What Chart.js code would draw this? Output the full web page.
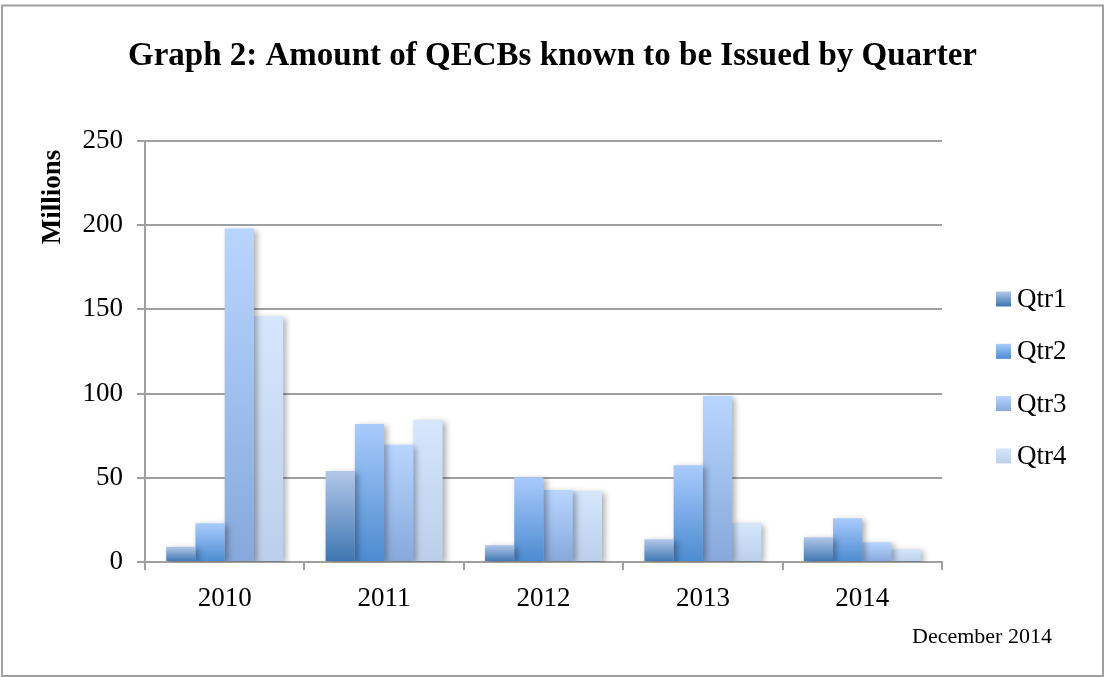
<!DOCTYPE html>
<html>
<head>
<meta charset="utf-8">
<title>Graph 2: Amount of QECBs known to be Issued by Quarter</title>
<script src="https://cdn.jsdelivr.net/npm/chart.js@4/dist/chart.umd.min.js"></script>
<style>
  html, body { margin: 0; padding: 0; background: #ffffff; }
  canvas { display: block; }
</style>
</head>
<body>
<canvas id="chart" width="1105" height="677"></canvas>
<script>
// Issued QECB amounts, in millions of dollars, by year and quarter
const years = ['2010', '2011', '2012', '2013', '2014'];
const seriesNames = ['Qtr1', 'Qtr2', 'Qtr3', 'Qtr4'];
const qtr1 = [9, 54, 10, 13.5, 14.7];
const qtr2 = [23, 82, 50.4, 57.5, 26];
const qtr3 = [198, 69.6, 42.7, 98.6, 11.7];
const qtr4 = [146, 84.4, 42, 23, 7.5];
const yTicks = [0, 50, 100, 150, 200, 250];

const titleText = 'Graph 2: Amount of QECBs known to be Issued by Quarter';
const yAxisTitle = 'Millions';
const footnote = 'December 2014';

// top / bottom colours of each series' vertical fill
const shades = [
  ['#b2c7e9', '#3d75b0'],
  ['#a9cbfd', '#4a8bd0'],
  ['#b8d5fe', '#86a9db'],
  ['#d5e6fd', '#bccfea']
];

const SERIF = '"Liberation Serif", "DejaVu Serif", serif';
const GRID = '#a0a0a0';

function barFill(top, bottom) {
  return (ctx) => {
    const chart = ctx.chart;
    if (ctx.type !== 'data' || !chart.chartArea || !chart.scales.y) return bottom;
    const ys = chart.scales.y;
    const v = ctx.parsed ? ctx.parsed.y : ctx.raw;
    const yTop = ys.getPixelForValue(v);
    const yBase = ys.getPixelForValue(0);
    if (!isFinite(yTop) || !isFinite(yBase) || Math.abs(yBase - yTop) < 0.5) return bottom;
    const g = chart.ctx.createLinearGradient(0, yTop, 0, yBase);
    g.addColorStop(0, top);
    g.addColorStop(1, bottom);
    return g;
  };
}

const values = [qtr1, qtr2, qtr3, qtr4];
const datasets = seriesNames.map((name, i) => ({
  label: name,
  data: values[i],
  backgroundColor: barFill(shades[i][0], shades[i][1]),
  borderWidth: 0,
  categoryPercentage: 0.734,
  barPercentage: 1.0
}));

// soft drop shadow behind the bars
const barShadow = {
  id: 'barShadow',
  beforeDatasetsDraw(chart) {
    const c = chart.ctx;
    c.save();
    c.shadowColor = 'rgba(0,0,0,0.32)';
    c.shadowBlur = 6;
    c.shadowOffsetX = 3;
    c.shadowOffsetY = 2;
  },
  afterDatasetsDraw(chart) {
    chart.ctx.restore();
  }
};

// frame, title, axis caption, legend and date note
const decorations = {
  id: 'decorations',
  beforeDraw(chart) {
    const c = chart.ctx;
    c.save();
    c.fillStyle = '#ffffff';
    c.fillRect(0, 0, chart.width, chart.height);
    c.restore();
  },
  afterDraw(chart) {
    const c = chart.ctx;
    const area = chart.chartArea;
    c.save();

    // outer frame
    c.strokeStyle = '#a0a0a0';
    c.lineWidth = 2;
    c.strokeRect(2, 5.5, 1101, 670.5);

    // title
    c.fillStyle = '#000000';
    c.font = 'bold 33px ' + SERIF;
    c.textAlign = 'center';
    c.textBaseline = 'middle';
    c.fillText(titleText, chart.width / 2, 56);

    // rotated axis caption
    c.save();
    c.translate(53, 197);
    c.rotate(-Math.PI / 2);
    c.font = 'bold 27px ' + SERIF;
    c.textAlign = 'center';
    c.textBaseline = 'middle';
    c.fillText(yAxisTitle, 0, 0);
    c.restore();

    // legend
    const boxX = area.right + 54;
    const firstRow = area.top + 158;
    const rowGap = 52.3;
    const box = 15;
    c.font = '27px ' + SERIF;
    c.textAlign = 'left';
    c.textBaseline = 'middle';
    chart.data.datasets.forEach((ds, i) => {
      const cy = firstRow + i * rowGap;
      const g = c.createLinearGradient(0, cy - box / 2, 0, cy + box / 2);
      g.addColorStop(0, shades[i][0]);
      g.addColorStop(1, shades[i][1]);
      c.fillStyle = g;
      c.fillRect(boxX, cy - box / 2, box, box);
      c.fillStyle = '#000000';
      c.fillText(ds.label, boxX + 21, cy + 1);
    });

    // date note
    c.font = '22px ' + SERIF;
    c.textAlign = 'left';
    c.fillText(footnote, 912, 637);

    c.restore();
  }
};

new Chart(document.getElementById('chart'), {
  type: 'bar',
  data: { labels: years, datasets },
  options: {
    responsive: false,
    animation: false,
    events: [],
    layout: { padding: { top: 141, right: 163, bottom: 0, left: 0 } },
    plugins: {
      legend: { display: false },
      title: { display: false },
      tooltip: { enabled: false }
    },
    scales: {
      x: {
        offset: true,
        grid: {
          offset: true,
          drawOnChartArea: false,
          drawTicks: true,
          tickLength: 8,
          color: GRID,
          lineWidth: 2
        },
        border: { display: true, color: GRID, width: 2 },
        ticks: {
          color: '#000000',
          font: { family: SERIF, size: 27 },
          padding: 13
        },
        afterFit(scale) { scale.height = 115; }
      },
      y: {
        min: 0,
        max: 250,
        afterBuildTicks(scale) { scale.ticks = yTicks.map(v => ({ value: v })); },
        grid: {
          color: GRID,
          lineWidth: 2,
          drawTicks: true,
          tickLength: 8
        },
        border: { display: true, color: GRID, width: 2 },
        ticks: {
          color: '#000000',
          font: { family: SERIF, size: 27 },
          padding: 14
        },
        afterFit(scale) { scale.width = 145; }
      }
    }
  },
  plugins: [barShadow, decorations]
});
</script>
</body>
</html>
